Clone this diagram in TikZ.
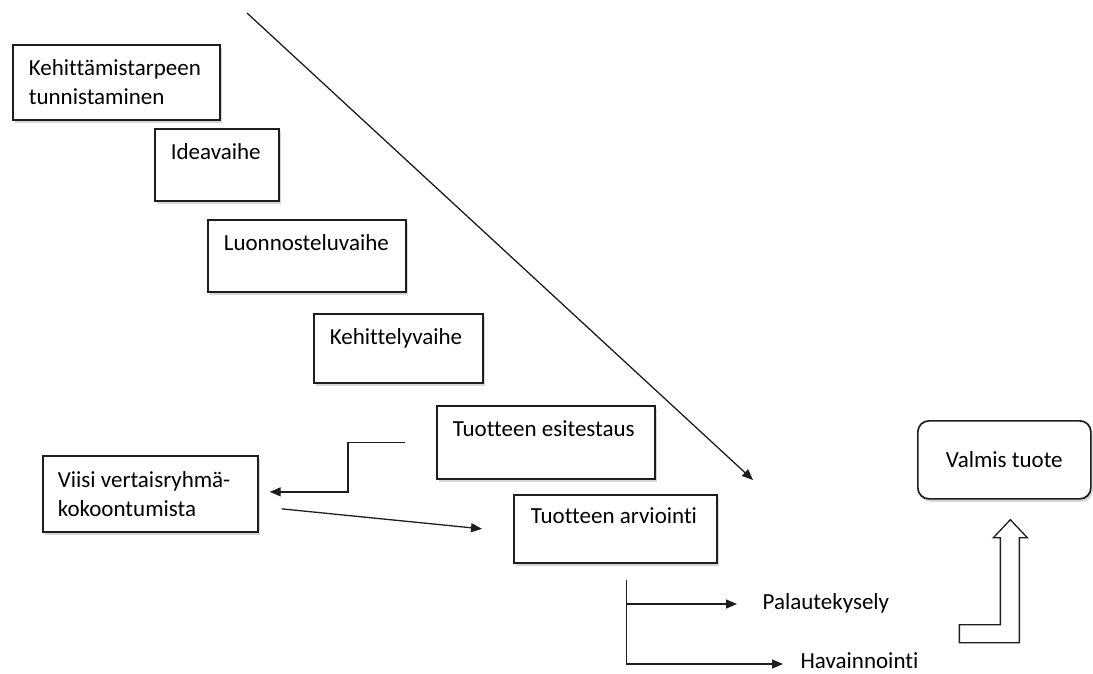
\documentclass[tikz,border=0pt]{standalone}
\usepackage{fontspec}
\setmainfont{Carlito}[Ligatures=CommonOff]
\usetikzlibrary{arrows.meta,shadows}
\definecolor{tmline}{RGB}{30,30,30}
\definecolor{tmshade}{RGB}{140,140,140}

\begin{document}
\begin{tikzpicture}[x=1pt,y=-1pt,line width=1.3pt,
  font=\fontsize{23}{29}\selectfont,
  phase/.style={draw=tmline,line width=1.7pt,fill=white,anchor=north west,align=left,
    inner xsep=16pt,inner ysep=15pt,text height=16pt,
    execute at begin node=\setlength\spaceskip{0pt},
    drop shadow={shadow xshift=2pt,shadow yshift=-3pt,opacity=0.35,fill=tmshade}},
  conn/.style={tmline,-{Triangle[length=11pt,width=9pt]}}]
  \useasboundingbox (0,0) rectangle (1093,673);
  % phases
  \node[phase,text width=175pt,text depth=29pt] (need) at (12,44) {Kehittämistarpeen\\tunnistaminen};
  \node[phase,text width=92pt,text depth=26pt] (idea) at (154,128) {Ideavaihe};
  \node[phase,text width=166pt,text depth=26pt] (sketch) at (207,219) {Luonnosteluvaihe};
  \node[phase,text width=137pt,text depth=23pt] (devel) at (313,313) {Kehittelyvaihe};
  \node[phase,text width=186pt,text depth=27pt] (pretest) at (436,405) {Tuotteen esitestaus};
  \node[phase,text width=169pt,text depth=26pt,inner ysep=13pt,inner xsep=17pt] (eval) at (513,494) {Tuotteen arviointi};
  \node[phase,text width=185pt,text depth=28pt,inner ysep=16pt,inner xsep=15pt] (peer) at (42,455) {Viisi vertaisryhmä-\\kokoontumista};
  \node[phase,align=center,anchor=north west,rounded corners=11pt,minimum width=173pt,
    minimum height=78pt,text height=,text depth=,inner ysep=0pt] (ready) at (917,420) {Valmis tuote};
  \node[anchor=base west,inner sep=0pt] (survey) at (762,609) {Palautekysely};
  \node[anchor=base west,inner sep=0pt] (observe) at (800,668) {Havainnointi};
  % connectors
  \coordinate (start) at (247,13);
  \coordinate (finish) at (753,480);
  \draw[conn] (start) -- (finish);
  \draw[conn] ([xshift=-31pt]pretest.west) -- ++(-57,0) |- ([xshift=11pt,yshift=2pt]peer.east);
  \draw[conn] ([xshift=23pt,yshift=-15pt]peer.east) -- ([xshift=-31pt]eval.west);
  \coordinate (fork) at ([xshift=11pt,yshift=-16pt]eval.south);
  \draw[conn] (fork) |- ([xshift=-17pt,yshift=4pt]observe.base west);
  \draw[conn] (fork |- 0,604) -- ([xshift=-25pt,yshift=5pt]survey.base west);
  % hollow arrow up to the result
  \draw[tmline,fill=white] ([xshift=6pt,yshift=-20pt]ready.south) -- ++(17,18) -- ++(-8,0)
    -- ++(0,105) -- ++(-60,0) -- ++(0,-18) -- ++(41,0) -- ++(0,-87) -- ++(-7,0) -- cycle;
\end{tikzpicture}
\end{document}
